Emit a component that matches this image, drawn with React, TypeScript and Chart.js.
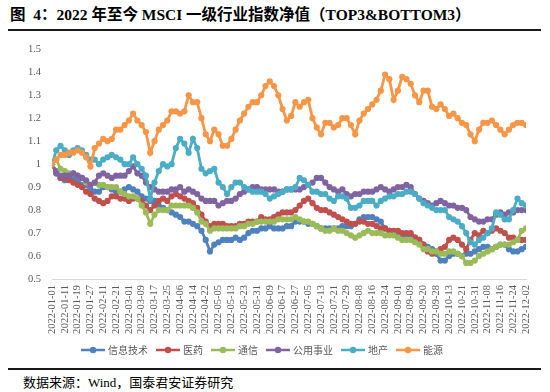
import React, { useEffect, useRef } from "react";
import { Chart, registerables } from "chart.js";

Chart.register(...registerables);

const tickDates = [
  "2022-01-01", "2022-01-11", "2022-01-19", "2022-01-27", "2022-02-11", "2022-02-21",
  "2022-03-01", "2022-03-09", "2022-03-17", "2022-03-25", "2022-04-06", "2022-04-14",
  "2022-04-22", "2022-05-05", "2022-05-13", "2022-05-23", "2022-05-31", "2022-06-09",
  "2022-06-17", "2022-06-27", "2022-07-05", "2022-07-13", "2022-07-21", "2022-07-29",
  "2022-08-08", "2022-08-16", "2022-08-24", "2022-09-01", "2022-09-09", "2022-09-20",
  "2022-09-28", "2022-10-13", "2022-10-21", "2022-10-31", "2022-11-08", "2022-11-16",
  "2022-11-24", "2022-12-02",
];

// three observations per labelled date interval
const pointsPerTick = 3;

const seriesNames = ["信息技术", "医药", "通信", "公用事业", "地产", "能源"];
const seriesColors = ["#4F81BD", "#C0504D", "#9BBB59", "#8064A2", "#4BACC6", "#F79646"];

const infoTech = [
  1.00, 0.97, 0.94, 0.93, 0.94, 0.94, 0.93, 0.91, 0.91, 0.89, 0.88, 0.88, 0.90, 0.90, 0.89, 0.88, 0.88, 0.89, 0.90, 0.89, 0.88, 0.86, 0.85, 0.84, 0.84, 0.82, 0.81, 0.80,
  0.79, 0.78, 0.77, 0.75, 0.75, 0.74, 0.73, 0.71, 0.67, 0.62, 0.65, 0.66, 0.67, 0.67, 0.67, 0.68, 0.67, 0.68, 0.70, 0.71, 0.71, 0.72, 0.72, 0.73, 0.72, 0.72, 0.72, 0.73,
  0.73, 0.75, 0.75, 0.75, 0.74, 0.74, 0.73, 0.72, 0.72, 0.72, 0.72, 0.72, 0.73, 0.73, 0.73, 0.74, 0.76, 0.77, 0.77, 0.77, 0.76, 0.75, 0.72, 0.71, 0.70, 0.70, 0.69, 0.69,
  0.69, 0.68, 0.67, 0.65, 0.64, 0.63, 0.61, 0.58, 0.58, 0.60, 0.61, 0.61, 0.60, 0.61, 0.61, 0.62, 0.63, 0.64, 0.64, 0.63, 0.64, 0.65, 0.65, 0.63, 0.62, 0.62, 0.63, 0.64,
];

const pharma = [
  1.00, 0.96, 0.94, 0.94, 0.93, 0.92, 0.91, 0.90, 0.88, 0.87, 0.85, 0.84, 0.83, 0.84, 0.86, 0.86, 0.85, 0.85, 0.84, 0.85, 0.85, 0.84, 0.82, 0.80, 0.82, 0.84, 0.85, 0.84,
  0.86, 0.87, 0.86, 0.85, 0.84, 0.83, 0.81, 0.78, 0.75, 0.73, 0.74, 0.74, 0.74, 0.73, 0.73, 0.73, 0.74, 0.74, 0.75, 0.75, 0.75, 0.77, 0.76, 0.76, 0.77, 0.78, 0.79, 0.79,
  0.79, 0.80, 0.82, 0.84, 0.85, 0.83, 0.81, 0.80, 0.80, 0.79, 0.78, 0.77, 0.76, 0.75, 0.74, 0.74, 0.75, 0.75, 0.74, 0.74, 0.73, 0.72, 0.72, 0.71, 0.71, 0.71, 0.70, 0.70,
  0.70, 0.68, 0.67, 0.65, 0.62, 0.61, 0.62, 0.63, 0.64, 0.67, 0.68, 0.67, 0.65, 0.63, 0.67, 0.70, 0.69, 0.71, 0.70, 0.71, 0.72, 0.71, 0.70, 0.68, 0.68, 0.67, 0.67, 0.67,
];

const telecom = [
  1.00, 1.02, 0.98, 0.97, 0.96, 0.96, 0.95, 0.94, 0.92, 0.91, 0.92, 0.91, 0.91, 0.90, 0.90, 0.90, 0.88, 0.87, 0.86, 0.86, 0.85, 0.82, 0.79, 0.74, 0.78, 0.80, 0.80, 0.80,
  0.82, 0.82, 0.82, 0.82, 0.82, 0.81, 0.79, 0.75, 0.74, 0.71, 0.72, 0.72, 0.72, 0.72, 0.72, 0.72, 0.73, 0.73, 0.74, 0.74, 0.75, 0.75, 0.75, 0.75, 0.75, 0.76, 0.76, 0.76,
  0.76, 0.77, 0.76, 0.75, 0.75, 0.74, 0.73, 0.72, 0.71, 0.71, 0.72, 0.71, 0.71, 0.70, 0.69, 0.68, 0.69, 0.70, 0.71, 0.70, 0.70, 0.70, 0.69, 0.69, 0.69, 0.68, 0.67, 0.67,
  0.67, 0.66, 0.65, 0.63, 0.63, 0.62, 0.62, 0.61, 0.61, 0.62, 0.62, 0.61, 0.60, 0.57, 0.57, 0.58, 0.60, 0.61, 0.62, 0.63, 0.64, 0.65, 0.65, 0.65, 0.66, 0.67, 0.71, 0.72,
];

const utilities = [
  1.00, 0.96, 0.95, 0.95, 0.95, 0.96, 0.95, 0.94, 0.93, 0.91, 0.92, 0.95, 0.96, 0.95, 0.94, 0.95, 0.95, 0.95, 0.97, 0.99, 0.96, 0.95, 0.92, 0.90, 0.89, 0.88, 0.88, 0.88,
  0.89, 0.89, 0.90, 0.88, 0.89, 0.88, 0.87, 0.85, 0.84, 0.84, 0.84, 0.82, 0.83, 0.84, 0.84, 0.85, 0.87, 0.88, 0.89, 0.90, 0.90, 0.89, 0.89, 0.89, 0.89, 0.88, 0.88, 0.89,
  0.89, 0.89, 0.89, 0.90, 0.91, 0.92, 0.94, 0.94, 0.92, 0.90, 0.89, 0.88, 0.89, 0.87, 0.86, 0.87, 0.87, 0.88, 0.88, 0.88, 0.89, 0.90, 0.89, 0.88, 0.89, 0.90, 0.90, 0.91,
  0.90, 0.87, 0.85, 0.84, 0.83, 0.82, 0.83, 0.84, 0.83, 0.82, 0.82, 0.81, 0.81, 0.80, 0.77, 0.76, 0.75, 0.75, 0.76, 0.76, 0.78, 0.79, 0.78, 0.79, 0.79, 0.80, 0.80, 0.80,
];

const realEstate = [
  1.00, 1.06, 1.08, 1.06, 1.04, 1.06, 1.07, 1.06, 1.04, 1.02, 1.02, 1.00, 1.02, 1.03, 1.04, 1.03, 1.02, 1.00, 1.00, 1.03, 1.00, 0.98, 0.95, 0.85, 0.92, 0.97, 1.00, 0.99,
  1.00, 1.07, 1.11, 1.09, 1.05, 1.11, 1.07, 0.98, 0.96, 0.97, 0.98, 0.92, 0.90, 0.87, 0.90, 0.92, 0.92, 0.90, 0.89, 0.88, 0.88, 0.88, 0.87, 0.85, 0.86, 0.87, 0.88, 0.89,
  0.89, 0.90, 0.94, 0.93, 0.91, 0.88, 0.88, 0.87, 0.87, 0.85, 0.84, 0.86, 0.86, 0.85, 0.81, 0.81, 0.82, 0.84, 0.84, 0.84, 0.82, 0.84, 0.85, 0.86, 0.86, 0.87, 0.87, 0.88,
  0.88, 0.87, 0.85, 0.83, 0.82, 0.81, 0.80, 0.80, 0.80, 0.77, 0.76, 0.75, 0.73, 0.70, 0.66, 0.65, 0.67, 0.68, 0.70, 0.72, 0.79, 0.78, 0.76, 0.76, 0.80, 0.85, 0.83, 0.82,
];

const energy = [
  1.00, 1.02, 1.04, 1.04, 1.05, 1.05, 1.06, 1.05, 1.03, 0.99, 1.07, 1.09, 1.11, 1.10, 1.11, 1.15, 1.15, 1.17, 1.19, 1.22, 1.19, 1.17, 1.14, 1.05, 1.10, 1.15, 1.17, 1.19,
  1.23, 1.23, 1.22, 1.23, 1.30, 1.27, 1.27, 1.20, 1.13, 1.10, 1.15, 1.13, 1.08, 1.08, 1.11, 1.15, 1.19, 1.22, 1.25, 1.27, 1.27, 1.30, 1.34, 1.36, 1.34, 1.30, 1.24, 1.19,
  1.21, 1.27, 1.25, 1.27, 1.28, 1.20, 1.16, 1.13, 1.18, 1.18, 1.16, 1.17, 1.20, 1.20, 1.17, 1.13, 1.19, 1.22, 1.24, 1.26, 1.28, 1.32, 1.39, 1.37, 1.28, 1.32, 1.38, 1.37,
  1.35, 1.30, 1.27, 1.32, 1.32, 1.25, 1.24, 1.26, 1.24, 1.21, 1.22, 1.20, 1.18, 1.17, 1.13, 1.10, 1.15, 1.18, 1.18, 1.19, 1.17, 1.15, 1.13, 1.15, 1.17, 1.18, 1.18, 1.17,
];

const seriesValues = [infoTech, pharma, telecom, utilities, realEstate, energy];

const yMin = 0.5;
const yMax = 1.5;
const yStep = 0.1;

const titleText = "图  4：2022 年至今 MSCI 一级行业指数净值（TOP3&BOTTOM3）";
const sourceText = "数据来源：Wind，国泰君安证券研究";

const latinSerif = '"Liberation Serif", "Times New Roman", serif';
const cjk = '"Noto Sans CJK SC", sans-serif';

export default function App() {
  const canvasRef = useRef<HTMLCanvasElement>(null);

  useEffect(() => {
    const icons = seriesColors.map((c) => {
      const cv = document.createElement("canvas");
      cv.width = 24;
      cv.height = 8;
      const g = cv.getContext("2d")!;
      g.strokeStyle = c;
      g.lineWidth = 2.5;
      g.beginPath();
      g.moveTo(0, 4);
      g.lineTo(24, 4);
      g.stroke();
      g.fillStyle = c;
      g.beginPath();
      g.arc(12, 4, 3.2, 0, Math.PI * 2);
      g.fill();
      return cv;
    });

    const datasets = seriesNames.map((name, i) => ({
      label: name,
      data: seriesValues[i].map((v, k) => ({ x: k / pointsPerTick, y: v })),
      borderColor: seriesColors[i],
      backgroundColor: seriesColors[i],
      pointBackgroundColor: seriesColors[i],
      pointBorderWidth: 0,
      pointRadius: 3.1,
      pointHoverRadius: 3.1,
      borderWidth: 2.8,
      tension: 0,
      order: seriesNames.length - i,
    }));

    const chart = new Chart(canvasRef.current!, {
      type: "line",
      data: { datasets },
      options: {
        responsive: false,
        animation: false,
        layout: { padding: { left: 0, right: 24, top: 13, bottom: 3 } },
        plugins: {
          tooltip: { enabled: false },
          title: { display: false },
          legend: {
            position: "bottom",
            labels: {
              usePointStyle: true,
              pointStyleWidth: 20,
              padding: 10,
              color: "#595959",
              font: { family: cjk, size: 10 },
              generateLabels: () =>
                seriesNames.map((name, i) => ({
                  text: name,
                  fillStyle: seriesColors[i],
                  strokeStyle: seriesColors[i],
                  lineWidth: 0,
                  pointStyle: icons[i] as any,
                  hidden: false,
                  datasetIndex: i,
                  fontColor: "#595959",
                })),
            },
          },
        },
        scales: {
          x: {
            type: "linear",
            min: 0,
            max: tickDates.length - 1,
            afterFit: (scale: any) => {
              scale.height = 56;
            },
            grid: { display: false, drawTicks: false },
            border: { display: true, color: "#D9D9D9", width: 1 },
            ticks: {
              stepSize: 1,
              autoSkip: false,
              maxRotation: 90,
              minRotation: 90,
              padding: 6,
              color: "#595959",
              font: { family: latinSerif, size: 10.5 },
              callback: (v: any) => tickDates[Math.round(Number(v))] ?? "",
            },
          },
          y: {
            min: yMin,
            max: yMax,
            afterFit: (scale: any) => {
              scale.width = 52;
            },
            grid: { display: false, drawTicks: false },
            border: { display: false },
            ticks: {
              stepSize: yStep,
              padding: 11,
              color: "#595959",
              font: { family: latinSerif, size: 10.5 },
              callback: (v: any) => String(Number(Number(v).toFixed(1))),
            },
          },
        },
      },
    });
    return () => chart.destroy();
  }, []);

  return (
    <div
      style={{
        position: "absolute",
        left: 0,
        top: 0,
        width: 550,
        height: 392,
        background: "#fff",
        overflow: "hidden",
      }}
    >
      <div
        style={{
          position: "absolute",
          left: 10,
          top: 5,
          fontFamily: `${latinSerif.split(",")[0]}, ${cjk}`,
          fontWeight: "bold",
          fontSize: 15.5,
          lineHeight: "20px",
          color: "#000",
          whiteSpace: "pre",
        }}
      >
        {titleText}
      </div>
      <div style={{ position: "absolute", left: 8, top: 29, width: 533, height: 1.5, background: "#1a1a1a" }} />
      <canvas
        ref={canvasRef}
        width={550}
        height={336}
        style={{ position: "absolute", left: 0, top: 32, width: 550, height: 336, display: "block" }}
      />
      <div style={{ position: "absolute", left: 8, top: 368, width: 533, height: 1.5, background: "#1a1a1a" }} />
      <div
        style={{
          position: "absolute",
          left: 23,
          top: 374,
          fontFamily: `${latinSerif.split(",")[0]}, ${cjk}`,
          fontSize: 13,
          lineHeight: "18px",
          color: "#000",
          whiteSpace: "pre",
        }}
      >
        {sourceText}
      </div>
    </div>
  );
}
